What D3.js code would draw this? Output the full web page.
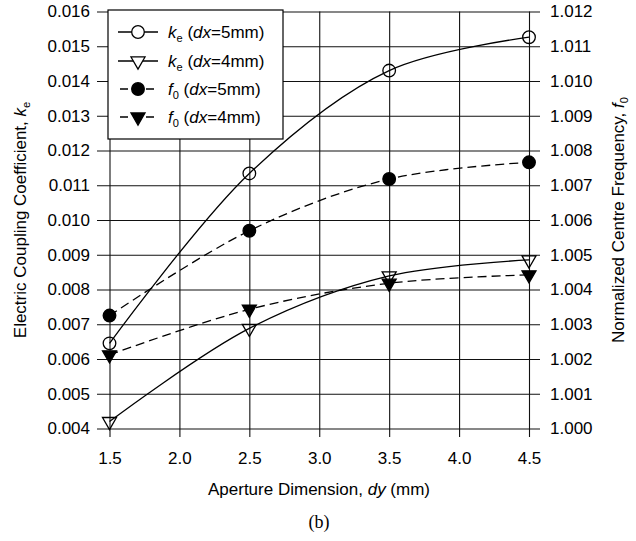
<!DOCTYPE html>
<html><head><meta charset="utf-8">
<script src="https://cdn.jsdelivr.net/npm/d3@7"></script>
<style>
body{margin:0;background:#fff;}
svg{display:block;font-family:"Liberation Sans",Arial,sans-serif;}
</style></head>
<body><svg id="c" width="636" height="541"></svg>
<script>
const xValues = [1.5, 2.5, 3.5, 4.5];
const keDx5 = [0.00645, 0.01134, 0.0143, 0.01526];
const keDx4 = [0.0042, 0.00688, 0.00839, 0.00885];
const f0Dx5 = [1.00325, 1.00569, 1.00718, 1.00766];
const f0Dx4 = [1.00212, 1.00343, 1.00418, 1.00442];
const xTicks = [1.5, 2.0, 2.5, 3.0, 3.5, 4.0, 4.5];
const leftTicks = [0.004,0.005,0.006,0.007,0.008,0.009,0.010,0.011,0.012,0.013,0.014,0.015,0.016];
const rightTicks = [1.000,1.001,1.002,1.003,1.004,1.005,1.006,1.007,1.008,1.009,1.010,1.011,1.012];
const legendLabels = [
  {sym:"k", sub:"e", dx:"5"}, {sym:"k", sub:"e", dx:"4"},
  {sym:"f", sub:"0", dx:"5"}, {sym:"f", sub:"0", dx:"4"}
];

const svg = d3.select("#c");
const FS = 17;
const plotTop = 11.5, plotBot = 428.5;
const x = d3.scaleLinear().domain([1.5, 4.5]).range([109.5, 529]);
const yL = d3.scaleLinear().domain([0.004, 0.016]).range([plotBot, plotTop]);
const yR = d3.scaleLinear().domain([1.000, 1.012]).range([plotBot, plotTop]);
const gridL = 97, gridR = 540;

// Horizontal grid + left labels
const axL = svg.append("g").attr("transform", `translate(${gridL},0)`)
  .call(d3.axisLeft(yL).tickValues(leftTicks).tickFormat(d3.format(".3f"))
    .tickSizeInner(-(gridR - gridL)).tickSizeOuter(0).tickPadding(7));
axL.select(".domain").remove();
axL.selectAll("line").attr("stroke", "#111").attr("stroke-width", 1.1);
axL.selectAll("text").attr("font-size", FS).attr("fill", "#000").attr("font-family", "Liberation Sans, Arial, sans-serif");

// right labels
const axR = svg.append("g").attr("transform", `translate(${gridR},0)`)
  .call(d3.axisRight(yR).tickValues(rightTicks).tickFormat(d3.format(".3f"))
    .tickSize(0).tickPadding(10));
axR.select(".domain").remove();
axR.selectAll("text").attr("font-size", FS).attr("fill", "#000").attr("font-family", "Liberation Sans, Arial, sans-serif");

// vertical grid + bottom labels
const xBase = 437;
const axB = svg.append("g").attr("transform", `translate(0,${xBase})`)
  .call(d3.axisBottom(x).tickValues(xTicks).tickFormat(d3.format(".1f"))
    .tickSizeInner(-(xBase - plotTop)).tickSizeOuter(0).tickPadding(15));
axB.select(".domain").remove();
axB.selectAll("line").attr("stroke", "#111").attr("stroke-width", 1.1);
axB.selectAll("text").attr("font-size", FS).attr("fill", "#000").attr("font-family", "Liberation Sans, Arial, sans-serif");

// series
const curve = d3.curveCatmullRom.alpha(0.5);
const series = [
  {vals: keDx5, y: yL, dash: null, shape: "circle", fill: false},
  {vals: keDx4, y: yL, dash: null, shape: "tri", fill: false},
  {vals: f0Dx5, y: yR, dash: "9,5", shape: "circle", fill: true},
  {vals: f0Dx4, y: yR, dash: "9,5", shape: "tri", fill: true}
];
const circleSym = d3.symbol().type(d3.symbolCircle).size(125);
const triSym = d3.symbol().type(d3.symbolTriangle).size(85);

series.forEach(s => {
  const pts = xValues.map((xv, i) => [x(xv), s.y(s.vals[i])]);
  svg.append("path").attr("d", d3.line().curve(curve)(pts))
    .attr("fill", "none").attr("stroke", "#000").attr("stroke-width", 1.3)
    .attr("stroke-dasharray", s.dash);
});
series.forEach(s => {
  xValues.forEach((xv, i) => {
    const px = x(xv), py = s.y(s.vals[i]);
    svg.append("path")
      .attr("d", s.shape === "circle" ? circleSym() : triSym())
      .attr("transform", `translate(${px},${py})` + (s.shape === "tri" ? " rotate(180)" : ""))
      .attr("fill", s.fill ? "#000" : "none")
      .attr("stroke", "#000").attr("stroke-width", 1.3);
  });
});

// legend
const lg = svg.append("g");
lg.append("rect").attr("x", 108).attr("y", 10).attr("width", 175).attr("height", 129)
  .attr("fill", "#fff").attr("stroke", "#000").attr("stroke-width", 1.2);
const rowY = [32, 61, 89, 117];
series.forEach((s, i) => {
  const yy = rowY[i];
  lg.append("line").attr("x1", 118).attr("x2", 158).attr("y1", yy).attr("y2", yy)
    .attr("stroke", "#000").attr("stroke-width", 1.3)
    .attr("stroke-dasharray", s.dash ? "8,5" : null)
    .attr("stroke-dashoffset", s.dash ? -2 : 0);
  lg.append("path").attr("d", s.shape === "circle" ? circleSym() : triSym())
    .attr("transform", `translate(138,${yy})` + (s.shape === "tri" ? " rotate(180)" : ""))
    .attr("fill", s.fill ? "#000" : "#fff").attr("stroke", "#000").attr("stroke-width", 1.3);
  const L = legendLabels[i];
  const t = lg.append("text").attr("x", 168).attr("y", yy + 6).attr("font-size", FS);
  t.append("tspan").attr("font-style", "italic").text(L.sym);
  t.append("tspan").attr("font-size", FS * 0.65).attr("dy", 4).text(L.sub);
  t.append("tspan").attr("dy", -4).text(" (");
  t.append("tspan").attr("font-style", "italic").text("dx");
  t.append("tspan").text("=" + L.dx + "mm)");
});

// axis titles
const xt = svg.append("text").attr("x", 319).attr("y", 495).attr("text-anchor", "middle").attr("font-size", FS);
xt.append("tspan").text("Aperture Dimension, ");
xt.append("tspan").attr("font-style", "italic").text("dy");
xt.append("tspan").text(" (mm)");

const ylt = svg.append("text").attr("transform", `translate(26,${(plotTop + plotBot) / 2}) rotate(-90)`)
  .attr("text-anchor", "middle").attr("font-size", FS);
ylt.append("tspan").text("Electric Coupling Coefficient, ");
ylt.append("tspan").attr("font-style", "italic").text("k");
ylt.append("tspan").attr("font-size", FS * 0.65).attr("dy", 4).text("e");

const yrt = svg.append("text").attr("transform", `translate(624,${(plotTop + plotBot) / 2}) rotate(-90)`)
  .attr("text-anchor", "middle").attr("font-size", FS);
yrt.append("tspan").text("Normalized Centre Frequency, ");
yrt.append("tspan").attr("font-style", "italic").text("f");
yrt.append("tspan").attr("font-size", FS * 0.65).attr("dy", 4).text("0");

svg.append("text").attr("x", 319).attr("y", 528).attr("text-anchor", "middle")
  .attr("font-family", "Liberation Serif, Times New Roman, serif").attr("font-size", 18).text("(b)");
</script></body></html>
